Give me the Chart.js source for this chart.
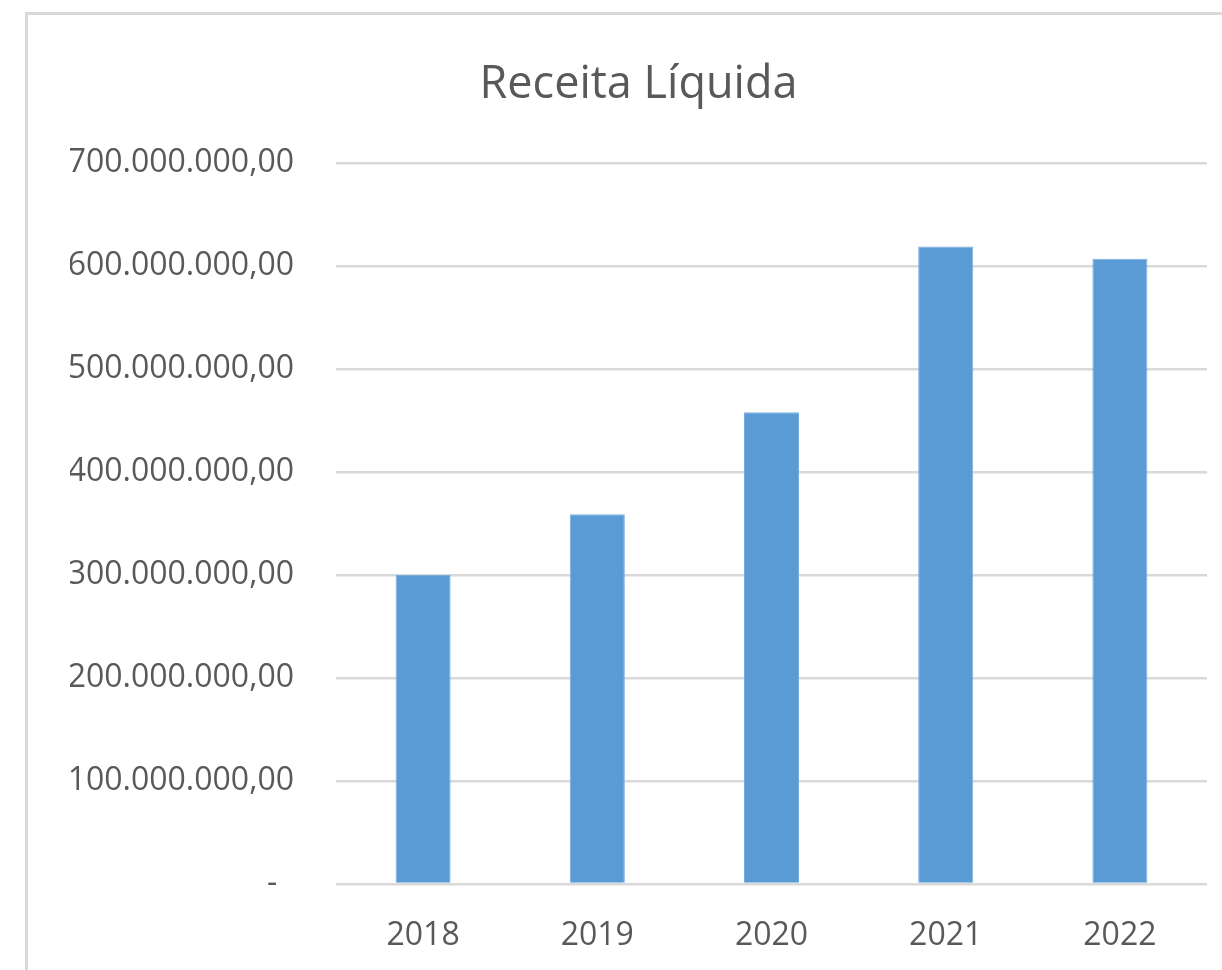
<!DOCTYPE html>
<html>
<head>
<meta charset="utf-8">
<script src="https://cdn.jsdelivr.net/npm/chart.js@4.4.1/dist/chart.umd.min.js"></script>
<style>
  body { margin: 0; background: #fff; overflow: hidden; }
  #frame { position: absolute; left: 25px; top: 12px; width: 1300px; height: 1000px;
           border-left: 3px solid #d9d9d9; border-top: 3px solid #d9d9d9; }
  #wrap { position: absolute; left: 0; top: 0; width: 1222px; height: 970px; }
</style>
</head>
<body>
<div id="frame"></div>
<div id="wrap"><canvas id="myChart"></canvas></div>
<script>
var years = ['2018', '2019', '2020', '2021', '2022'];
var receita = [300000000, 359000000, 458000000, 619000000, 607000000];
var yMax = 700000000;
var yStep = 100000000;

function fmt(v) {
  if (v === 0) return '-\u00a0\u00a0';
  var s = Math.round(v).toString().replace(/\B(?=(\d{3})+(?!\d))/g, '.');
  return s + ',00';
}

Chart.defaults.font.family = '"Open Sans", sans-serif';
Chart.defaults.color = '#595959';

var ctx = document.getElementById('myChart').getContext('2d');
new Chart(ctx, {
  type: 'bar',
  data: {
    labels: years,
    datasets: [{
      label: 'Receita Líquida',
      data: receita,
      backgroundColor: '#5b9bd5',
      borderColor: '#7aaee0',
      borderWidth: 1,
      barPercentage: 0.632,
      categoryPercentage: 0.5
    }]
  },
  options: {
    responsive: true,
    maintainAspectRatio: false,
    animation: false,
    layout: { padding: { left: 70, right: 15, top: 0, bottom: 0 } },
    plugins: {
      legend: { display: false },
      tooltip: { enabled: false },
      title: {
        display: true,
        text: 'Receita Líquida',
        color: '#595959',
        font: { size: 45, weight: 'normal' },
        padding: { top: 58, bottom: 51 }
      }
    },
    scales: {
      y: {
        min: 0,
        max: yMax,
        afterFit: function (s) { s.width = 266; },
        border: { display: false },
        grid: { color: '#d9d9d9', lineWidth: 2.5, drawTicks: false },
        ticks: {
          stepSize: yStep,
          padding: 42,
          font: { size: 32 },
          callback: function (v) { return fmt(v); }
        }
      },
      x: {
        afterFit: function (s) { s.height = 86; },
        border: { display: false },
        grid: { display: false },
        ticks: { padding: 25, font: { size: 32 } }
      }
    }
  }
});
</script>
</body>
</html>
